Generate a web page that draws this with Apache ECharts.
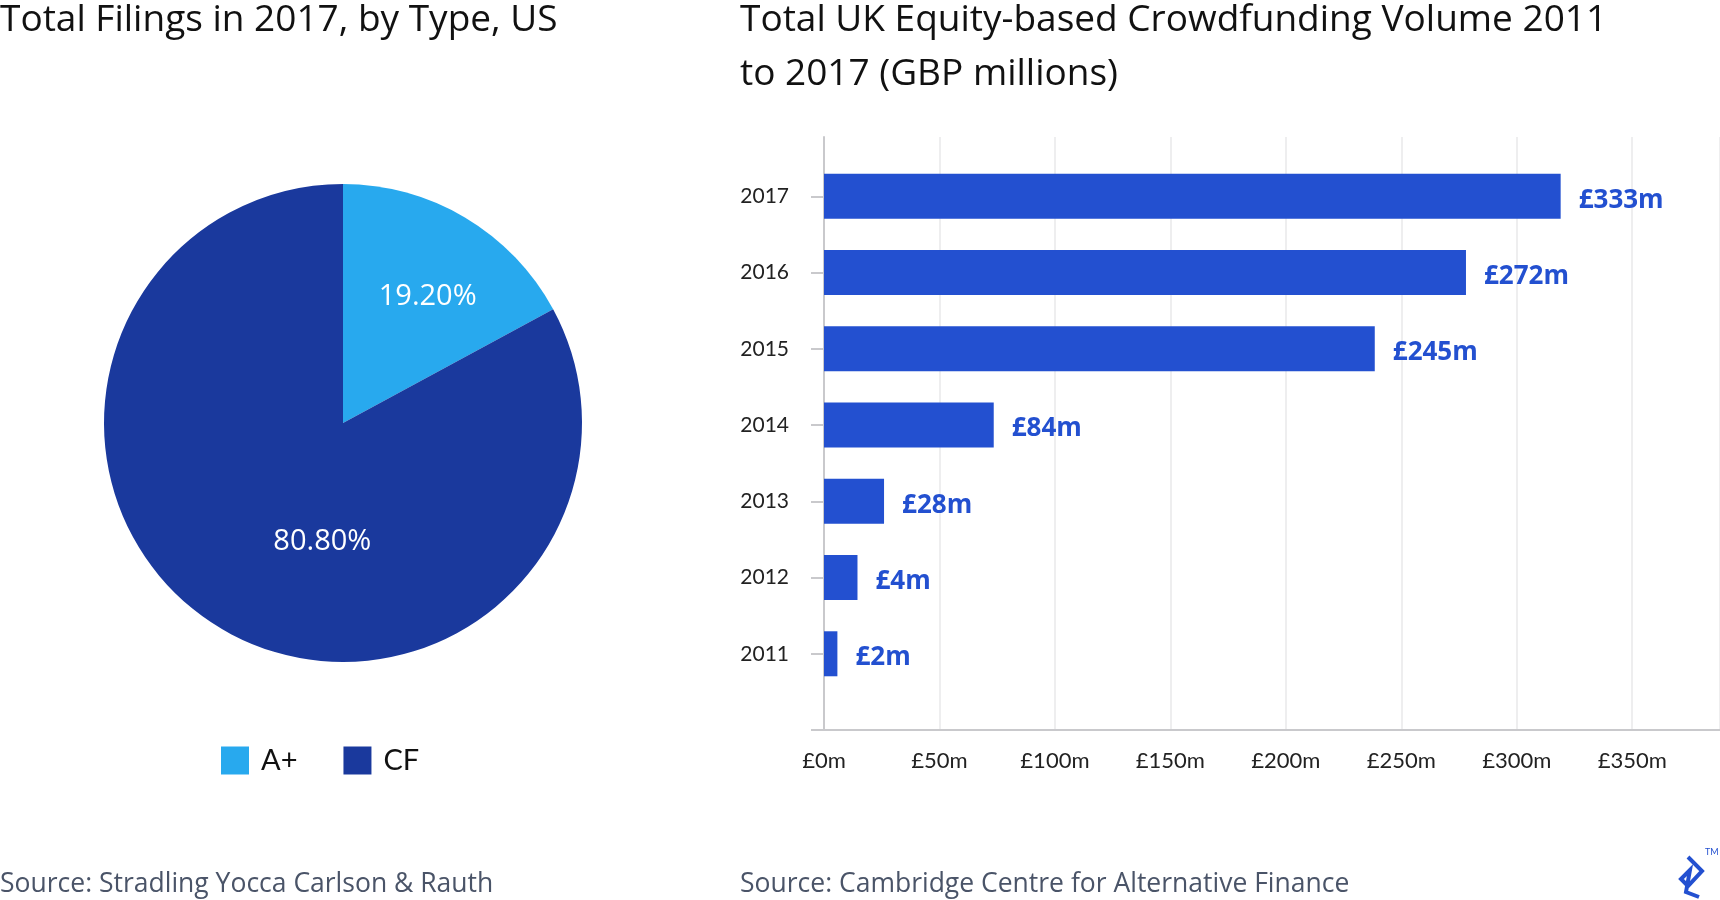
<!DOCTYPE html>
<html>
<head>
    <meta charset="utf-8">
    <title>Crowdfunding</title>
    <script src="https://cdn.jsdelivr.net/npm/echarts@6/dist/echarts.min.js"></script>
    <style>
        html, body { margin: 0; padding: 0; background: #fff; }
        #main { width: 1720px; height: 900px; }
    </style>
</head>
<body>
    <div id="main"></div>
    <script type="text/javascript">
        // left: filings by type (slice sizes as drawn, printed labels as shown)
        var pieNames = ['A+', 'CF'];
        var pieShares = [17.1, 82.9];
        var pieLabels = ['19.20%', '80.80%'];

        // right: UK equity crowdfunding volume, bar lengths
        var barYears = [2011, 2012, 2013, 2014, 2015, 2016, 2017];
        var barLengths = [5.8, 14.5, 26, 73.5, 238.5, 278, 319];
        var barLabels = ['£2m', '£4m', '£28m', '£84m', '£245m', '£272m', '£333m'];
        var xTicks = [0, 50, 100, 150, 200, 250, 300, 350];

        var font = 'Lato, "Open Sans", sans-serif';
        var wide = '"Open Sans", Lato, sans-serif';
        var blue = '#2350d0';
        var axisGrey = '#c9c9cc';

        var myChart = echarts.init(document.getElementById('main'));

        var option = {
            animation: false,
            backgroundColor: '#fff',
            textStyle: { fontFamily: font },
            title: [{
                text: 'Total Filings in 2017, by Type, US',
                left: 0, top: -7, padding: 0,
                textStyle: { fontFamily: wide, fontSize: 37, fontWeight: 'normal', color: '#111', lineHeight: 54 }
            }, {
                text: 'Total UK Equity-based Crowdfunding Volume 2011\nto 2017 (GBP millions)',
                left: 740, top: -7, padding: 0,
                textStyle: { fontFamily: wide, fontSize: 37, fontWeight: 'normal', color: '#111', lineHeight: 54 }
            }, {
                text: 'Source: Stradling Yocca Carlson & Rauth',
                left: 0, top: 869, padding: 0,
                textStyle: { fontFamily: wide, fontSize: 26.5, fontWeight: 'normal', color: '#4a5468', lineHeight: 30 }
            }, {
                text: 'Source: Cambridge Centre for Alternative Finance',
                left: 740, top: 869, padding: 0,
                textStyle: { fontFamily: wide, fontSize: 26.5, fontWeight: 'normal', color: '#4a5468', lineHeight: 30 }
            }],
            legend: {
                data: pieNames,
                left: 221, top: 746, padding: 0,
                icon: 'rect',
                itemWidth: 28, itemHeight: 28, itemGap: 46,
                textStyle: { fontSize: 29, color: '#111', padding: [0, 0, 0, 7] }
            },
            grid: [
                // frame: axis lines, year ticks, vertical gridlines
                { left: 824, right: 0, top: 137, bottom: 170 },
                // bars: category bands lined up with the year ticks
                { left: 824, right: 0, top: 158.2, bottom: 208.1 }
            ],
            xAxis: [{
                gridIndex: 0,
                type: 'value', min: 0, max: 388, interval: 50,
                axisLine: { show: true, lineStyle: { color: axisGrey, width: 2 } },
                axisTick: { show: false },
                splitLine: { show: true, lineStyle: { color: '#e8e8ea', width: 1.5 } },
                axisLabel: {
                    customValues: xTicks,
                    margin: 20, fontSize: 22, color: '#222',
                    formatter: function (v) { return '£' + v + 'm'; }
                }
            }, {
                gridIndex: 1,
                type: 'value', min: 0, max: 388,
                show: false
            }],
            yAxis: [{
                gridIndex: 0,
                type: 'value', min: 2010, max: 2017.78, interval: 1,
                axisLine: { show: true, lineStyle: { color: axisGrey, width: 2 } },
                axisTick: {
                    show: true, length: 13,
                    customValues: [2010].concat(barYears),
                    lineStyle: { color: axisGrey, width: 2 }
                },
                splitLine: { show: false },
                axisLabel: {
                    customValues: barYears,
                    margin: 35, fontSize: 21, color: '#222',
                    formatter: function (v) { return String(v); }
                }
            }, {
                gridIndex: 1,
                type: 'category',
                data: barYears.map(String),
                show: false
            }],
            series: [{
                type: 'pie',
                center: [343, 423],
                radius: 239,
                startAngle: 90,
                clockwise: true,
                color: ['#28a9ee', '#1a399d'],
                data: pieNames.map(function (n, i) { return { name: n, value: pieShares[i] }; }),
                label: {
                    show: true,
                    position: 'inside',
                    color: '#fff',
                    fontFamily: wide,
                    fontSize: 29,
                    formatter: function (p) { return pieLabels[p.dataIndex]; }
                },
                labelLayout: function (p) {
                    return p.dataIndex === 0 ? { dx: 22, dy: -21 } : { dx: 42, dy: 13 };
                },
                labelLine: { show: false },
                emphasis: { disabled: true }
            }, {
                type: 'bar',
                xAxisIndex: 1,
                yAxisIndex: 1,
                barWidth: 45,
                itemStyle: { color: blue },
                data: barLengths,
                label: {
                    show: true,
                    position: 'right',
                    distance: 18,
                    color: blue,
                    fontFamily: wide,
                    fontSize: 26,
                    fontWeight: 'bold',
                    offset: [0, 4],
                    formatter: function (p) { return barLabels[p.dataIndex]; }
                }
            }],
            graphic: [{
                // small logo bottom right
                type: 'polyline',
                shape: { points: [[1688, 857], [1702, 871], [1688, 886], [1681, 879], [1690, 870], [1686, 892], [1699, 897]] },
                style: { stroke: blue, lineWidth: 4, fill: null }
            }, {
                type: 'text',
                left: 1705, top: 848,
                style: { text: 'TM', fill: blue, font: '9px ' + font }
            }]
        };

        myChart.setOption(option);
    </script>
</body>
</html>
